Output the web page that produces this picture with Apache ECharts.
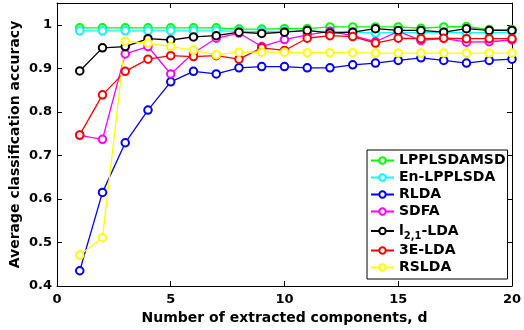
<!DOCTYPE html>
<html><head><meta charset="utf-8">
<script src="https://cdn.jsdelivr.net/npm/echarts@6/dist/echarts.min.js"></script>
<style>html,body{margin:0;padding:0;background:#fff}#c{width:524px;height:330px}</style>
</head><body><div id="c"></div>
<script>
const dims = [1,2,3,4,5,6,7,8,9,10,11,12,13,14,15,16,17,18,19,20];
const seriesNames = ['LPPLSDAMSD','En-LPPLSDA','RLDA','SDFA','l21-LDA','3E-LDA','RSLDA'];
const seriesColors = ['#00ff00','#00ffff','#0000ff','#ff00ff','#000000','#ff0000','#ffff00'];
const lpplsdamsd = [0.993,0.993,0.993,0.993,0.993,0.993,0.993,0.990,0.990,0.991,0.991,0.995,0.995,0.995,0.995,0.992,0.995,0.996,0.989,0.989];
const enLpplsda  = [0.986,0.986,0.986,0.986,0.986,0.986,0.986,0.985,0.985,0.985,0.985,0.985,0.984,0.981,0.983,0.982,0.983,0.982,0.982,0.983];
const rlda       = [0.435,0.615,0.729,0.804,0.869,0.893,0.887,0.901,0.904,0.904,0.901,0.901,0.908,0.912,0.918,0.924,0.918,0.912,0.918,0.921];
const sdfa       = [0.746,0.737,0.933,0.950,0.887,0.935,0.969,0.981,0.950,0.966,0.977,0.985,0.975,0.961,0.985,0.964,0.969,0.960,0.961,0.965];
const l21lda     = [0.894,0.947,0.950,0.968,0.965,0.972,0.975,0.983,0.980,0.983,0.987,0.981,0.983,0.991,0.987,0.987,0.983,0.991,0.987,0.987];
const e3lda      = [0.747,0.839,0.893,0.921,0.929,0.927,0.929,0.921,0.947,0.941,0.969,0.975,0.973,0.958,0.969,0.968,0.969,0.968,0.968,0.968];
const rslda      = [0.471,0.511,0.962,0.958,0.950,0.942,0.931,0.937,0.937,0.937,0.936,0.936,0.936,0.935,0.935,0.935,0.935,0.935,0.935,0.935];
const xTicks = [0,5,10,15,20];
const yTicks = [0.4,0.5,0.6,0.7,0.8,0.9,1];
const allValues = [lpplsdamsd,enLpplsda,rlda,sdfa,l21lda,e3lda,rslda];

const chart = echarts.init(document.getElementById('c'), null, {renderer:'canvas'});
const font = '"DejaVu Sans", sans-serif';
const tickFmt = v => String(Math.round(v*10)/10);
const series = seriesNames.map((n,i)=>({
  name:n, type:'line', xAxisIndex:0, yAxisIndex:0,
  data: dims.map((d,k)=>[d, allValues[i][k]]),
  symbol:'emptyCircle', symbolSize:7.5,
  lineStyle:{width:1.3, color:seriesColors[i]},
  itemStyle:{color:seriesColors[i], borderWidth:1.3},
  emphasis:{disabled:true}, animation:false
}));
chart.setOption({
  animation:false,
  backgroundColor:'#fff',
  grid:{left:54,right:11,top:3,bottom:44,show:false},
  xAxis:[{
    type:'value', min:xTicks[0], max:xTicks[xTicks.length-1], interval:5, position:'bottom',
    name:'Number of extracted components, d', nameLocation:'middle', nameGap:25, nameMoveOverlap:false,
    nameTextStyle:{fontFamily:font,fontWeight:'bold',fontSize:14,color:'#000'},
    axisLine:{show:true,onZero:false,lineStyle:{color:'#000',width:1}},
    axisTick:{show:true,inside:true,length:5,lineStyle:{color:'#000'}},
    axisLabel:{fontFamily:font,fontWeight:'bold',fontSize:13,color:'#000',margin:7},
    splitLine:{show:false}
  },{
    type:'value', min:0, max:20, interval:5, position:'top',
    axisLine:{show:true,onZero:false,lineStyle:{color:'#000',width:1}},
    axisTick:{show:true,inside:true,length:5,lineStyle:{color:'#000'}},
    axisLabel:{show:false}, splitLine:{show:false}
  }],
  yAxis:[{
    type:'value', min:yTicks[0], max:1.05, interval:0.1, position:'left',
    name:'Average classification accuracy', nameLocation:'middle', nameGap:35, nameMoveOverlap:false,
    nameTextStyle:{fontFamily:font,fontWeight:'bold',fontSize:14,color:'#000'},
    axisLine:{show:true,onZero:false,lineStyle:{color:'#000',width:1}},
    axisTick:{show:true,inside:true,length:5,lineStyle:{color:'#000'}},
    axisLabel:{fontFamily:font,fontWeight:'bold',fontSize:13,color:'#000',margin:5,showMaxLabel:false,formatter:tickFmt},
    splitLine:{show:false}
  },{
    type:'value', min:0.4, max:1.05, interval:0.1, position:'right',
    axisLine:{show:true,onZero:false,lineStyle:{color:'#000',width:1}},
    axisTick:{show:true,inside:true,length:5,lineStyle:{color:'#000'}},
    axisLabel:{show:false}, splitLine:{show:false}
  }],
  legend:{
    orient:'vertical', left:367, top:150, itemWidth:23, itemHeight:8, itemGap:2,
    padding:[3,2,4,3], borderColor:'#000', borderWidth:1, backgroundColor:'#fff',
    data:seriesNames,
    formatter: n => n==='l21-LDA' ? '{n|l}{s|2,1}{n|-LDA}' : n,
    textStyle:{fontFamily:font,fontWeight:'bold',fontSize:14,color:'#000',lineHeight:15,
      rich:{n:{fontFamily:font,fontWeight:'bold',fontSize:14,color:'#000',lineHeight:15},
            s:{fontFamily:font,fontWeight:'bold',fontSize:10,color:'#000',padding:[10,0,0,0],lineHeight:15}}},
    selectedMode:false
  },
  series: series
});
</script></body></html>
